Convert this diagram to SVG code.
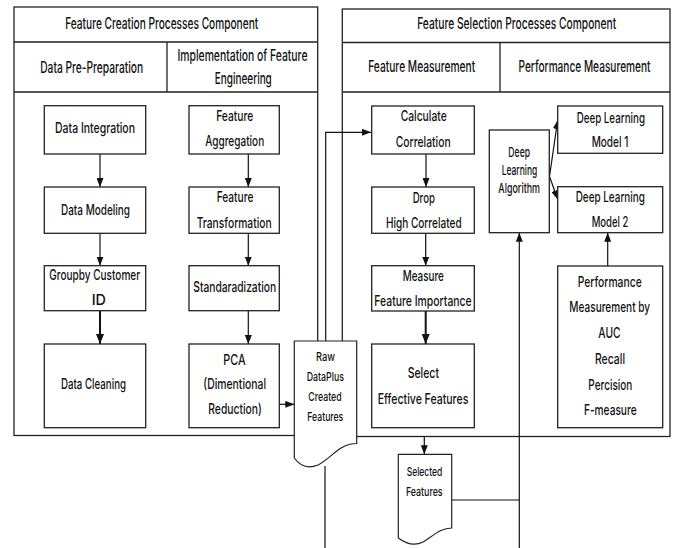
<svg xmlns="http://www.w3.org/2000/svg" width="673" height="548" viewBox="0 0 673 548">
<style>
.bg{fill:#fff}
.cont{fill:#fff;stroke:#222;stroke-width:1.3}
.ln{fill:none;stroke:#222;stroke-width:1.3}
.box{fill:#fff;stroke:#222;stroke-width:1.3}
.doc{fill:#fff;stroke:#222;stroke-width:1.2}
.c{fill:none;stroke:#111;stroke-width:1.2;marker-end:url(#ah)}
.ct{fill:none;stroke:#111;stroke-width:2;marker-end:url(#ah2)}
.cl{fill:none;stroke:#111;stroke-width:1.2}
text{font-family:Inter,"Liberation Sans",Arial,sans-serif;font-weight:500;fill:#111;text-anchor:middle}
.h{font-size:15.5px}
.t{font-size:14.5px}
.m{font-size:13.5px}
.s{font-size:12px}
</style>
<defs>
<marker id="ah" markerUnits="userSpaceOnUse" markerWidth="9" markerHeight="7" refX="9" refY="3.5" orient="auto"><path d="M0,0 L9,3.5 L0,7 z" fill="#111"/></marker>
<marker id="ah2" markerUnits="userSpaceOnUse" markerWidth="10" markerHeight="8" refX="10" refY="4" orient="auto"><path d="M0,0 L10,4 L0,8 z" fill="#111"/></marker>
</defs>
<rect class="bg" width="673" height="548"/>

<g id="creation-component">
<rect class="cont" x="14" y="7" width="303.7" height="428.5"/>
<path class="ln" d="M14,42 H317.7 M14,92 H317.7 M167,42 V92"/>
<text class="h" x="161.7" y="28.5" textLength="193" lengthAdjust="spacingAndGlyphs">Feature Creation Processes Component</text>
<text class="h" x="91.7" y="72.5" textLength="103" lengthAdjust="spacingAndGlyphs">Data Pre-Preparation</text>
<text class="h" x="242.5" y="60.5" textLength="130" lengthAdjust="spacingAndGlyphs">Implementation of Feature</text>
<text class="h" x="243.3" y="83.5" textLength="57" lengthAdjust="spacingAndGlyphs">Engineering</text>
</g>

<g id="selection-component">
<rect class="cont" x="342.3" y="9" width="327.7" height="427.5"/>
<path class="ln" d="M342.3,42.5 H670 M342.3,92 H670 M500,42.5 V92"/>
<text class="h" x="516.7" y="28.5" textLength="199" lengthAdjust="spacingAndGlyphs">Feature Selection Processes Component</text>
<text class="h" x="421.7" y="72" textLength="107" lengthAdjust="spacingAndGlyphs">Feature Measurement</text>
<text class="h" x="584.5" y="72" textLength="132" lengthAdjust="spacingAndGlyphs">Performance Measurement</text>
</g>

<g id="connectors">
<path class="c" d="M100,154 V187"/>
<path class="c" d="M100,233.3 V265.7"/>
<path class="ct" d="M100,310.7 V344"/>
<path class="c" d="M248.3,154 V187"/>
<path class="c" d="M248.3,233.3 V265.7"/>
<path class="c" d="M248.3,310.7 V344"/>
<path class="c" d="M279.3,404.3 H294.3"/>
<path class="c" d="M325.7,341 V132.3 H371"/>
<path class="c" d="M426,154 V187"/>
<path class="c" d="M425.7,233.3 V265.7"/>
<path class="ct" d="M425.7,311 V344"/>
<path class="c" d="M424.3,437 V454.3"/>
<path class="c" d="M549.5,176.5 L557.7,120"/>
<path class="c" d="M549.5,176.5 L557.7,199.3"/>
<path class="c" d="M519.3,548 V232.7"/>
<path class="cl" d="M451.7,500 H519.3"/>
<path class="c" d="M607.7,266 V232.7"/>
<path class="cl" d="M325,466 V548"/>
</g>

<g id="data-integration">
<rect class="box" x="44.3" y="105.7" width="101.4" height="48.3"/>
<text class="t" x="95" y="132.7" textLength="80" lengthAdjust="spacingAndGlyphs">Data Integration</text>
</g>
<g id="data-modeling">
<rect class="box" x="44.3" y="187" width="101.4" height="46.3"/>
<text class="t" x="95.5" y="214.5" textLength="69" lengthAdjust="spacingAndGlyphs">Data Modeling</text>
</g>
<g id="groupby">
<rect class="box" x="44.3" y="265.7" width="101.4" height="45"/>
<text class="t" x="94.7" y="280" textLength="90.7" lengthAdjust="spacingAndGlyphs">Groupby Customer</text>
<text class="t" x="98.8" y="305" textLength="14.3" lengthAdjust="spacingAndGlyphs">ID</text>
</g>
<g id="data-cleaning">
<rect class="box" x="44.3" y="344" width="101.4" height="83.7"/>
<text class="t" x="93.5" y="389.3" textLength="65" lengthAdjust="spacingAndGlyphs">Data Cleaning</text>
</g>

<g id="feature-aggregation">
<rect class="box" x="189" y="105.7" width="90.3" height="48.3"/>
<text class="t" x="234.7" y="121" textLength="37" lengthAdjust="spacingAndGlyphs">Feature</text>
<text class="t" x="234.7" y="146" textLength="59" lengthAdjust="spacingAndGlyphs">Aggregation</text>
</g>
<g id="feature-transformation">
<rect class="box" x="189" y="187" width="90.3" height="46.3"/>
<text class="t" x="235" y="201.7" textLength="36.7" lengthAdjust="spacingAndGlyphs">Feature</text>
<text class="t" x="234.2" y="227.7" textLength="75" lengthAdjust="spacingAndGlyphs">Transformation</text>
</g>
<g id="standaradization">
<rect class="box" x="189" y="265.7" width="90.3" height="45"/>
<text class="t" x="234.7" y="291.7" textLength="82.7" lengthAdjust="spacingAndGlyphs">Standaradization</text>
</g>
<g id="pca">
<rect class="box" x="189" y="344" width="90.3" height="83.7"/>
<text class="t" x="234.5" y="365" textLength="22.3" lengthAdjust="spacingAndGlyphs">PCA</text>
<text class="t" x="234.7" y="388.5" textLength="62.7" lengthAdjust="spacingAndGlyphs">(Dimentional</text>
<text class="t" x="235" y="414" textLength="53.4" lengthAdjust="spacingAndGlyphs">Reduction)</text>
</g>

<g id="raw-data">
<path class="doc" d="M294.3,341 H356.7 V443.5 C338,444 332,458 318,465 C308,469 300,466 294.3,458 Z"/>
<text class="s" x="325.5" y="361" textLength="19" lengthAdjust="spacingAndGlyphs">Raw</text>
<text class="s" x="325.3" y="381" textLength="37.3" lengthAdjust="spacingAndGlyphs">DataPlus</text>
<text class="s" x="325" y="401" textLength="33.3" lengthAdjust="spacingAndGlyphs">Created</text>
<text class="s" x="325.3" y="421" textLength="36" lengthAdjust="spacingAndGlyphs">Features</text>
</g>

<g id="calculate-correlation">
<rect class="box" x="371.7" y="106" width="102.6" height="48"/>
<text class="t" x="423.7" y="121" textLength="46" lengthAdjust="spacingAndGlyphs">Calculate</text>
<text class="t" x="423.2" y="146.5" textLength="55" lengthAdjust="spacingAndGlyphs">Correlation</text>
</g>
<g id="drop-high-correlated">
<rect class="box" x="371.7" y="187" width="102.6" height="46.3"/>
<text class="t" x="423.8" y="202.5" textLength="22.3" lengthAdjust="spacingAndGlyphs">Drop</text>
<text class="t" x="423.8" y="228.3" textLength="75.7" lengthAdjust="spacingAndGlyphs">High Correlated</text>
</g>
<g id="measure-importance">
<rect class="box" x="371.7" y="265.7" width="102.6" height="45.3"/>
<text class="t" x="423.3" y="280.7" textLength="41.3" lengthAdjust="spacingAndGlyphs">Measure</text>
<text class="t" x="423" y="306" textLength="97.4" lengthAdjust="spacingAndGlyphs">Feature Importance</text>
</g>
<g id="select-effective">
<rect class="box" x="371.7" y="344" width="102.6" height="83.7"/>
<text class="t" x="423.3" y="378.3" textLength="31.3" lengthAdjust="spacingAndGlyphs">Select</text>
<text class="t" x="423" y="404" textLength="90.6" lengthAdjust="spacingAndGlyphs">Effective Features</text>
</g>

<g id="selected-features">
<path class="doc" d="M398.3,454.3 H451.7 V528 C440,528 432,537 423,542 C413,547 405,543 398.3,538 Z"/>
<text class="s" x="424.5" y="476" textLength="35.7" lengthAdjust="spacingAndGlyphs">Selected</text>
<text class="s" x="424.3" y="495.7" textLength="36.7" lengthAdjust="spacingAndGlyphs">Features</text>
</g>

<g id="dl-algorithm">
<rect class="box" x="489.3" y="130" width="60" height="102.7"/>
<text class="m" x="519.2" y="157" textLength="21.7" lengthAdjust="spacingAndGlyphs">Deep</text>
<text class="m" x="519.5" y="175" textLength="35.7" lengthAdjust="spacingAndGlyphs">Learning</text>
<text class="m" x="519.2" y="193" textLength="41.7" lengthAdjust="spacingAndGlyphs">Algorithm</text>
</g>
<g id="dl-model-1">
<rect class="box" x="557.7" y="106" width="105" height="47.3"/>
<text class="t" x="610.8" y="122.7" textLength="68.3" lengthAdjust="spacingAndGlyphs">Deep Learning</text>
<text class="t" x="610" y="146.7" textLength="36.7" lengthAdjust="spacingAndGlyphs">Model 1</text>
</g>
<g id="dl-model-2">
<rect class="box" x="557.7" y="186.7" width="105" height="46"/>
<text class="t" x="610.3" y="201.7" textLength="69.3" lengthAdjust="spacingAndGlyphs">Deep Learning</text>
<text class="t" x="610" y="227.3" textLength="36.7" lengthAdjust="spacingAndGlyphs">Model 2</text>
</g>
<g id="performance">
<rect class="box" x="557.7" y="266" width="105" height="161.7"/>
<text class="t" x="609.7" y="286.7" textLength="64" lengthAdjust="spacingAndGlyphs">Performance</text>
<text class="t" x="609.7" y="312" textLength="80.7" lengthAdjust="spacingAndGlyphs">Measurement by</text>
<text class="t" x="609.5" y="338" textLength="22.3" lengthAdjust="spacingAndGlyphs">AUC</text>
<text class="t" x="610" y="364" textLength="30" lengthAdjust="spacingAndGlyphs">Recall</text>
<text class="t" x="610.3" y="389.5" textLength="44" lengthAdjust="spacingAndGlyphs">Percision</text>
<text class="t" x="610.3" y="415" textLength="52.7" lengthAdjust="spacingAndGlyphs">F-measure</text>
</g>
</svg>
